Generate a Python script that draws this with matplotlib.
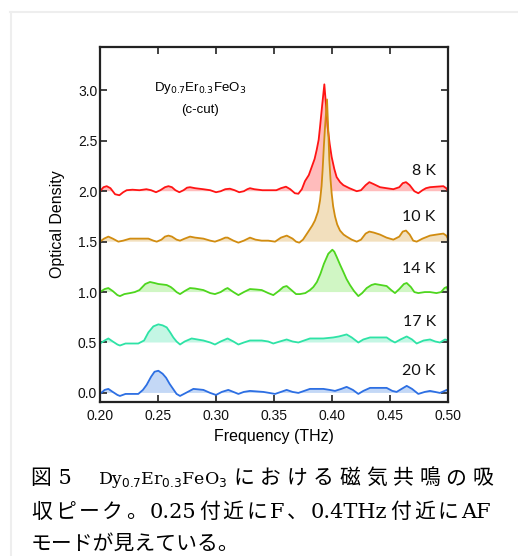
import numpy as np
import matplotlib
matplotlib.use('Agg')
import matplotlib.pyplot as plt
from matplotlib.lines import Line2D
from matplotlib.offsetbox import TextArea, HPacker, AnchoredOffsetbox

# ---- data: (frequency THz, optical density incl. offset)
pts_8K = [
    (0.2000, 2.00), (0.2030, 2.04), (0.2058, 2.05), (0.2090, 2.03), (0.2130, 1.97),
    (0.2167, 1.96), (0.2200, 1.99), (0.2230, 2.01), (0.2280, 2.015), (0.2340, 2.01),
    (0.2400, 2.02), (0.2440, 2.01), (0.2483, 1.99), (0.2520, 2.01), (0.2560, 2.04),
    (0.2590, 2.05), (0.2620, 2.04), (0.2650, 2.01), (0.2684, 1.99), (0.2720, 2.01),
    (0.2750, 2.035), (0.2776, 2.04), (0.2820, 2.03), (0.2890, 2.02), (0.2950, 2.01),
    (0.3000, 1.99), (0.3040, 2.00), (0.3080, 2.02), (0.3120, 2.025), (0.3160, 2.01),
    (0.3200, 1.99), (0.3240, 2.00), (0.3270, 2.02), (0.3293, 2.03), (0.3330, 2.02),
    (0.3400, 2.01), (0.3460, 2.01), (0.3520, 2.01), (0.3560, 2.03), (0.3603, 2.045),
    (0.3640, 2.02), (0.3680, 1.98), (0.3710, 1.975), (0.3740, 2.02), (0.3767, 2.10),
    (0.3800, 2.16), (0.3825, 2.24), (0.3850, 2.32), (0.3868, 2.41), (0.3885, 2.51),
    (0.3897, 2.64), (0.3915, 2.85), (0.3934, 3.06), (0.3948, 2.86), (0.3962, 2.64),
    (0.3980, 2.47), (0.3997, 2.34), (0.4020, 2.22), (0.4040, 2.14), (0.4070, 2.09),
    (0.4098, 2.06), (0.4150, 2.03), (0.4213, 2.00), (0.4250, 2.01), (0.4290, 2.06),
    (0.4322, 2.09), (0.4360, 2.07), (0.4414, 2.04), (0.4470, 2.03), (0.4529, 2.02),
    (0.4580, 2.04), (0.4610, 2.08), (0.4638, 2.09), (0.4670, 2.06), (0.4710, 2.00),
    (0.4744, 1.98), (0.4780, 2.01), (0.4810, 2.03), (0.4845, 2.04), (0.4900, 2.045),
    (0.4960, 2.05), (0.4985, 2.03), (0.5000, 2.00)]

pts_10K = [
    (0.2000, 1.50), (0.2035, 1.53), (0.2072, 1.55), (0.2110, 1.53), (0.2158, 1.50),
    (0.2200, 1.51), (0.2259, 1.53), (0.2300, 1.53), (0.2345, 1.53), (0.2417, 1.53),
    (0.2460, 1.51), (0.2489, 1.50), (0.2530, 1.52), (0.2560, 1.55), (0.2590, 1.56),
    (0.2620, 1.55), (0.2660, 1.52), (0.2690, 1.51), (0.2730, 1.53), (0.2776, 1.55),
    (0.2820, 1.54), (0.2891, 1.53), (0.2950, 1.51), (0.2991, 1.50), (0.3040, 1.52),
    (0.3080, 1.54), (0.3100, 1.54), (0.3150, 1.51), (0.3193, 1.49), (0.3240, 1.51),
    (0.3293, 1.54), (0.3340, 1.52), (0.3394, 1.51), (0.3450, 1.51), (0.3509, 1.50),
    (0.3560, 1.54), (0.3610, 1.56), (0.3660, 1.53), (0.3690, 1.50), (0.3718, 1.49),
    (0.3750, 1.52), (0.3796, 1.60), (0.3830, 1.66), (0.3853, 1.71), (0.3880, 1.80),
    (0.3897, 1.91), (0.3910, 2.05), (0.3919, 2.21), (0.3930, 2.45), (0.3940, 2.64),
    (0.3957, 2.91), (0.3968, 2.60), (0.3977, 2.31), (0.3987, 2.12), (0.3997, 1.98),
    (0.4010, 1.85), (0.4026, 1.75), (0.4045, 1.67), (0.4069, 1.61), (0.4100, 1.57),
    (0.4126, 1.55), (0.4170, 1.52), (0.4213, 1.50), (0.4250, 1.52), (0.4290, 1.58),
    (0.4322, 1.60), (0.4360, 1.59), (0.4414, 1.57), (0.4470, 1.54), (0.4529, 1.52),
    (0.4580, 1.55), (0.4610, 1.60), (0.4638, 1.61), (0.4670, 1.57), (0.4700, 1.51),
    (0.4730, 1.50), (0.4780, 1.53), (0.4845, 1.56), (0.4900, 1.57), (0.4960, 1.58),
    (0.4985, 1.56), (0.5000, 1.53)]

pts_14K = [
    (0.2000, 1.00), (0.2040, 1.03), (0.2072, 1.04), (0.2110, 1.01), (0.2150, 0.97),
    (0.2172, 0.96), (0.2210, 0.98), (0.2259, 0.99), (0.2300, 1.00), (0.2340, 1.02),
    (0.2390, 1.08), (0.2431, 1.10), (0.2470, 1.09), (0.2503, 1.08), (0.2540, 1.075),
    (0.2575, 1.07), (0.2610, 1.05), (0.2632, 1.03), (0.2660, 1.00), (0.2690, 0.98),
    (0.2730, 1.01), (0.2776, 1.04), (0.2820, 1.035), (0.2891, 1.02), (0.2950, 0.99),
    (0.2991, 0.98), (0.3040, 1.00), (0.3080, 1.03), (0.3100, 1.04), (0.3150, 1.00),
    (0.3193, 0.97), (0.3240, 1.00), (0.3293, 1.03), (0.3350, 1.025), (0.3394, 1.02),
    (0.3450, 0.99), (0.3494, 0.97), (0.3540, 1.01), (0.3580, 1.05), (0.3609, 1.06),
    (0.3650, 1.02), (0.3690, 0.98), (0.3724, 0.98), (0.3770, 0.99), (0.3810, 1.02),
    (0.3839, 1.05), (0.3870, 1.10), (0.3900, 1.18), (0.3930, 1.28), (0.3968, 1.38),
    (0.4003, 1.42), (0.4020, 1.40), (0.4040, 1.35), (0.4070, 1.27), (0.4098, 1.20),
    (0.4125, 1.13), (0.4155, 1.07), (0.4190, 1.01), (0.4227, 0.96), (0.4260, 0.99),
    (0.4299, 1.04), (0.4340, 1.07), (0.4371, 1.08), (0.4420, 1.07), (0.4471, 1.06),
    (0.4510, 1.02), (0.4543, 0.99), (0.4580, 1.03), (0.4620, 1.08), (0.4644, 1.09),
    (0.4680, 1.05), (0.4710, 1.00), (0.4744, 0.99), (0.4800, 1.00), (0.4845, 1.00),
    (0.4900, 0.99), (0.4940, 1.00), (0.4970, 1.04), (0.4989, 1.05), (0.5000, 1.02)]

pts_17K = [
    (0.2000, 0.49), (0.2040, 0.52), (0.2072, 0.54), (0.2110, 0.51), (0.2150, 0.48),
    (0.2172, 0.47), (0.2220, 0.49), (0.2259, 0.49), (0.2330, 0.49), (0.2380, 0.52),
    (0.2417, 0.60), (0.2460, 0.66), (0.2503, 0.68), (0.2540, 0.67), (0.2575, 0.65),
    (0.2605, 0.60), (0.2632, 0.55), (0.2660, 0.51), (0.2690, 0.48), (0.2730, 0.51),
    (0.2790, 0.54), (0.2840, 0.53), (0.2891, 0.52), (0.2950, 0.50), (0.2991, 0.48),
    (0.3040, 0.51), (0.3100, 0.54), (0.3150, 0.51), (0.3193, 0.48), (0.3240, 0.50),
    (0.3293, 0.52), (0.3394, 0.52), (0.3450, 0.51), (0.3494, 0.49), (0.3550, 0.51),
    (0.3609, 0.53), (0.3660, 0.51), (0.3710, 0.50), (0.3760, 0.52), (0.3810, 0.54),
    (0.3925, 0.54), (0.4011, 0.55), (0.4060, 0.56), (0.4126, 0.58), (0.4170, 0.55),
    (0.4227, 0.50), (0.4270, 0.53), (0.4328, 0.55), (0.4400, 0.55), (0.4471, 0.55),
    (0.4510, 0.52), (0.4543, 0.50), (0.4590, 0.53), (0.4644, 0.56), (0.4690, 0.53),
    (0.4730, 0.49), (0.4790, 0.52), (0.4845, 0.53), (0.4890, 0.51), (0.4931, 0.50),
    (0.4974, 0.53), (0.5000, 0.52)]

pts_20K = [
    (0.2000, -0.01), (0.2040, 0.03), (0.2072, 0.04), (0.2110, 0.01), (0.2150, -0.02),
    (0.2172, -0.03), (0.2220, -0.01), (0.2259, -0.01), (0.2330, -0.01), (0.2370, 0.03),
    (0.2402, 0.08), (0.2440, 0.16), (0.2470, 0.21), (0.2503, 0.22), (0.2540, 0.19),
    (0.2570, 0.15), (0.2600, 0.09), (0.2630, 0.04), (0.2660, -0.01), (0.2690, -0.03),
    (0.2740, 0.00), (0.2805, 0.04), (0.2850, 0.035), (0.2891, 0.03), (0.2950, 0.00),
    (0.3000, -0.02), (0.3050, 0.01), (0.3106, 0.03), (0.3150, 0.01), (0.3193, -0.01),
    (0.3240, 0.01), (0.3293, 0.02), (0.3408, 0.01), (0.3460, 0.00), (0.3509, -0.01),
    (0.3560, 0.01), (0.3609, 0.03), (0.3660, 0.01), (0.3710, 0.00), (0.3760, 0.02),
    (0.3810, 0.04), (0.3925, 0.04), (0.3980, 0.03), (0.4026, 0.02), (0.4080, 0.04),
    (0.4126, 0.06), (0.4180, 0.03), (0.4227, -0.01), (0.4270, 0.02), (0.4328, 0.05),
    (0.4400, 0.05), (0.4471, 0.05), (0.4520, 0.02), (0.4557, 0.01), (0.4600, 0.04),
    (0.4644, 0.07), (0.4690, 0.04), (0.4744, -0.01), (0.4800, 0.01), (0.4845, 0.02),
    (0.4931, 0.00), (0.4970, 0.02), (0.4989, 0.03), (0.5000, 0.02)]

temps = ['8 K', '10 K', '14 K', '17 K', '20 K']
baselines = [2.0, 1.5, 1.0, 0.5, 0.0]
series = [pts_8K, pts_10K, pts_14K, pts_17K, pts_20K]
colors = ['#ff1414', '#d18c10', '#4ed61e', '#2ee3a6', '#2d6fe3']
fills = ['#ffbcbc', '#f2dfbd', '#d0f6c4', '#c4f6e4', '#c4d8f6']
label_y = [2.20, 1.74, 1.23, 0.70, 0.22]

plt.rcParams['font.family'] = ['Liberation Sans', 'DejaVu Sans']

W, H = 518, 556
fig = plt.figure(figsize=(W / 100, H / 100), dpi=100)
ax = fig.add_axes([100 / W, 1 - 402 / H, 348 / W, 355 / H])

for pts, base, c, fc, t, ly in zip(series, baselines, colors, fills, temps, label_y):
    f, od = np.array(pts).T
    ax.fill_between(f, base, od, where=od >= base, interpolate=True,
                    color=fc, lw=0, zorder=1)
    ax.plot(f, od, color=c, lw=1.3, zorder=2, solid_joinstyle='round')
    ax.text(0.4895, ly, t, ha='right', va='center', fontsize=11.5,
            family=['Lato', 'DejaVu Sans'], color='#111111')

ax.text(0.286, 3.02, r'Dy$_{0.7}$Er$_{0.3}$FeO$_3$', ha='center', va='center', fontsize=9.5)
ax.text(0.286, 2.81, '(c-cut)', ha='center', va='center', fontsize=9.5)

ax.set_xlim(0.2, 0.5)
ax.set_ylim(-0.09, 3.43)
ax.set_xticks([0.20, 0.25, 0.30, 0.35, 0.40, 0.45, 0.50])
ax.set_yticks([0.0, 0.5, 1.0, 1.5, 2.0, 2.5, 3.0])
ax.xaxis.set_major_formatter(matplotlib.ticker.FormatStrFormatter('%.2f'))
ax.yaxis.set_major_formatter(matplotlib.ticker.FormatStrFormatter('%.1f'))
ax.tick_params(direction='in', length=5, width=1.2, top=True, right=True,
               labelsize=10, color='#222222', labelcolor='#111111')
ax.tick_params(axis='x', pad=5)
ax.tick_params(axis='y', pad=2)
for s in ax.spines.values():
    s.set_linewidth(1.6)
    s.set_color('#222222')
ax.set_xlabel('Frequency (THz)', fontsize=11.5, labelpad=4)
ax.set_ylabel('Optical Density', fontsize=11.5, labelpad=9)

# light page frame
fig.add_artist(Line2D([10 / W, 1], [1 - 12 / H, 1 - 12 / H], color='#eeeeee', lw=1.5))
fig.add_artist(Line2D([11 / W, 11 / W], [0, 1 - 12 / H], color='#eeeeee', lw=1.5))

# caption (justified lines)
cjk = ['DejaVu Serif', 'Noto Sans CJK JP']
cap = dict(fontsize=15, family=cjk, color='#000000')
formula = dict(fontsize=12.5, color='#000000', family='DejaVu Serif')


def caption_line(parts, y, width=None):
    kids = [TextArea(p, textprops=(formula if p.startswith('Dy') else cap)) for p in parts]
    if width is None:
        pack = HPacker(children=kids, align='baseline', pad=0, sep=0)
    else:
        pack = HPacker(children=kids, align='baseline', pad=0, sep=0,
                       mode='expand', width=width)
    box = AnchoredOffsetbox(loc='center left', child=pack, pad=0, frameon=False,
                            bbox_to_anchor=(31 / W, 1 - y / H),
                            bbox_transform=fig.transFigure, borderpad=0)
    fig.add_artist(box)


line1 = ['図 5\u3000', r'Dy$_{0.7}$Er$_{0.3}$FeO$_3$'] + list('における磁気共鳴の吸')
line2 = list('収ピーク。') + ['0.25'] + list('付近に') + ['F', '、', '0.4THz'] + list('付近に') + ['AF']
line3 = ['モードが見えている。']
caption_line(line1, 479, width=462)
caption_line(line2, 512, width=460)
caption_line(line3, 544)

fig.savefig('out.png', dpi=100)
